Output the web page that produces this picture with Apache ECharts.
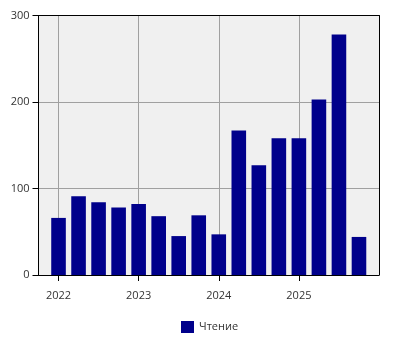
<!DOCTYPE html>
<html><head><meta charset="utf-8">
<script src="https://cdn.jsdelivr.net/npm/echarts@6/dist/echarts.min.js"></script>
<style>html,body{margin:0;padding:0;background:#fff}#c{width:400px;height:350px}</style>
</head><body><div id="c"></div>
<script>
const quarters = ['2022 Q1','2022 Q2','2022 Q3','2022 Q4','2023 Q1','2023 Q2','2023 Q3','2023 Q4','2024 Q1','2024 Q2','2024 Q3','2024 Q4','2025 Q1','2025 Q2','2025 Q3','2025 Q4'];
const readingValues = [66, 91, 84, 78, 82, 68, 45, 69, 47, 167, 127, 158, 158, 203, 278, 44];
const seriesName = 'Чтение';
const yTicks = [0, 100, 200, 300];

// pad one empty slot at each side of the category axis
const axisCats = [''].concat(quarters, ['']);
const axisData = [null].concat(readingValues, [null]);
const isYearStart = (i) => { const c = axisCats[i]; return !!c && c.endsWith('Q1'); };

const chart = echarts.init(document.getElementById('c'), null, {renderer: 'canvas'});
chart.setOption({
  animation: false,
  textStyle: {fontFamily: 'Open Sans'},
  grid: {left: 38.5, right: 21, top: 15.5, bottom: 75, show: true, backgroundColor: '#f0f0f0', borderColor: '#000', borderWidth: 0},
  legend: {
    bottom: 12, left: 176, icon: 'rect', itemWidth: 13, itemHeight: 12, itemGap: 6,
    textStyle: {fontSize: 11, color: '#333', fontFamily: 'Open Sans'},
    data: [seriesName]
  },
  xAxis: [{
    type: 'category', data: axisCats, boundaryGap: false,
    axisLine: {show: true, lineStyle: {color: '#000'}},
    axisTick: {show: true, length: 6, interval: (i) => isYearStart(i), lineStyle: {color: '#000'}},
    axisLabel: {interval: (i) => isYearStart(i), formatter: (v) => v ? v.slice(0, 4) : '', color: '#333', fontSize: 11, margin: 15},
    splitLine: {show: true, interval: (i) => isYearStart(i), lineStyle: {color: '#a0a0a0', width: 1}}
  }, {
    type: 'category', data: axisCats, boundaryGap: false, position: 'top', z: 5,
    axisLine: {show: true, onZero: false, lineStyle: {color: '#000'}},
    axisTick: {show: false}, axisLabel: {show: false}, splitLine: {show: false}
  }],
  yAxis: [{
    type: 'value', min: yTicks[0], max: yTicks[yTicks.length - 1], interval: 100,
    axisLine: {show: true, lineStyle: {color: '#000'}},
    axisTick: {show: true, length: 6, lineStyle: {color: '#000'}},
    axisLabel: {color: '#333', fontSize: 11, margin: 9},
    splitLine: {show: true, lineStyle: {color: '#a0a0a0', width: 1}}
  }, {
    type: 'value', min: yTicks[0], max: yTicks[yTicks.length - 1], interval: 100, position: 'right', z: 5,
    axisLine: {show: true, onZero: false, lineStyle: {color: '#000'}},
    axisTick: {show: false}, axisLabel: {show: false}, splitLine: {show: false}
  }],
  series: [{
    name: seriesName, type: 'bar', data: axisData, barWidth: 14.6,
    itemStyle: {color: '#00008b'}
  }]
});
</script></body></html>
